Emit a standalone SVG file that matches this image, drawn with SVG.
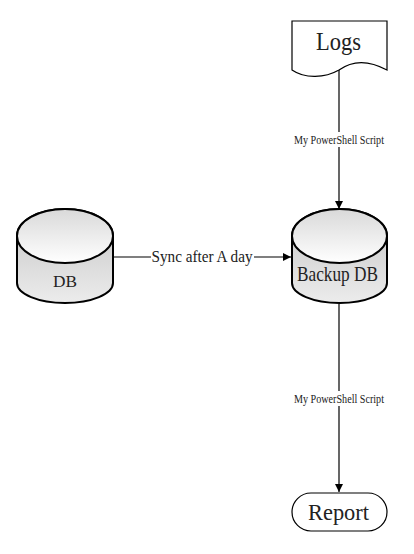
<svg xmlns="http://www.w3.org/2000/svg" width="414" height="554" viewBox="0 0 414 554">
<defs>
<linearGradient id="gTop" x1="0" y1="0" x2="0" y2="1">
<stop offset="0" stop-color="#d9d9d9"/>
<stop offset="1" stop-color="#ffffff"/>
</linearGradient>
<linearGradient id="gBody" x1="0" y1="0" x2="0" y2="1">
<stop offset="0" stop-color="#c4c4c4"/>
<stop offset="1" stop-color="#ececec"/>
</linearGradient>
<marker id="arr" viewBox="0 0 10 10" refX="10" refY="5" markerWidth="8" markerHeight="8" markerUnits="userSpaceOnUse" orient="auto">
<path d="M0,0 L10,5 L0,10 Z" fill="#000"/>
</marker>
</defs>
<style>
text{font-family:"Liberation Serif","Times New Roman",serif;fill:#222;}
.cyl{stroke:#000;stroke-width:2;}
.conn{stroke:#000;stroke-width:1.2;fill:none;}
.lbl{font-size:13px;}
</style>
<rect width="414" height="554" fill="#fff"/>
<g id="connectors">
<line class="conn" x1="339" y1="70" x2="339" y2="209" marker-end="url(#arr)"/>
<rect x="292" y="132" width="94" height="15" fill="#fff"/>
<text class="lbl" x="339" y="144" text-anchor="middle" textLength="90" lengthAdjust="spacingAndGlyphs">My PowerShell Script</text>
<line class="conn" x1="114" y1="257" x2="291" y2="257" marker-end="url(#arr)"/>
<rect x="151" y="248" width="103" height="18" fill="#fff"/>
<text x="202" y="262" font-size="17" text-anchor="middle" textLength="101" lengthAdjust="spacingAndGlyphs">Sync after A day</text>
<line class="conn" x1="339" y1="304" x2="339" y2="492" marker-end="url(#arr)"/>
<rect x="292" y="391" width="94" height="15" fill="#fff"/>
<text class="lbl" x="339" y="403" text-anchor="middle" textLength="90" lengthAdjust="spacingAndGlyphs">My PowerShell Script</text>
</g>
<g id="logs">
<path d="M292,21 H387 V70 C365,58 350,62 339,70 C325,78 305,79 292,70 Z" fill="#fff" stroke="#000" stroke-width="1.2"/>
<text x="338.5" y="50" font-size="26" text-anchor="middle" textLength="45" lengthAdjust="spacingAndGlyphs">Logs</text>
</g>
<g id="db">
<path class="cyl" d="M17,236 A48,27 0 0 1 113,236 L113,283 A48,20 0 0 1 17,283 Z" fill="url(#gBody)"/>
<ellipse class="cyl" cx="65" cy="236" rx="48" ry="27" fill="url(#gTop)"/>
<text x="65" y="287" font-size="17" text-anchor="middle" textLength="24" lengthAdjust="spacingAndGlyphs">DB</text>
</g>
<g id="backup-db">
<path class="cyl" d="M292,236 A47.5,27 0 0 1 387,236 L387,283 A47.5,20 0 0 1 292,283 Z" fill="url(#gBody)"/>
<ellipse class="cyl" cx="339.5" cy="236" rx="47.5" ry="27" fill="url(#gTop)"/>
<text x="337.5" y="281" font-size="21" text-anchor="middle" textLength="81" lengthAdjust="spacingAndGlyphs">Backup DB</text>
</g>
<g id="report">
<rect x="292" y="493" width="95" height="38" rx="19" ry="19" fill="#fff" stroke="#000" stroke-width="1.2"/>
<text x="338.5" y="520" font-size="24" text-anchor="middle" textLength="61" lengthAdjust="spacingAndGlyphs">Report</text>
</g>
</svg>
